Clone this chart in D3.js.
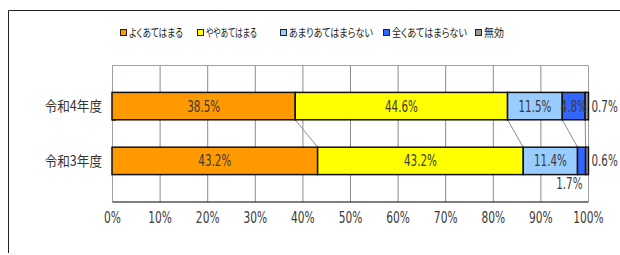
<!DOCTYPE html>
<html>
<head>
<meta charset="utf-8">
<script src="https://cdn.jsdelivr.net/npm/d3@7"></script>
<style>
  body { margin: 0; background: #fff; }
  .num { font-family: "Liberation Sans Narrow", "DejaVu Sans Condensed", sans-serif; }
  .jp { font-family: "Noto Sans CJK JP", sans-serif; font-feature-settings: "palt"; }
</style>
</head>
<body>
<svg id="chart" width="620" height="255"></svg>
<script>
const categories = ['令和4年度', '令和3年度'];
const seriesNames = ['よくあてはまる', 'ややあてはまる', 'あまりあてはまらない', '全くあてはまらない', '無効'];
const seriesColors = ['#ff9900', '#ffff00', '#99ccff', '#3366ff', '#999999'];
const valuesR4 = [38.5, 44.6, 11.5, 4.8, 0.7];
const valuesR3 = [43.2, 43.2, 11.4, 1.7, 0.6];
const tickValues = [0, 10, 20, 30, 40, 50, 60, 70, 80, 90, 100];

const rows = [valuesR4, valuesR3];

const svg = d3.select('#chart');

// outer frame (only left and top edges are visible)
svg.append('path')
  .attr('d', 'M8.5,253V10.5H620')
  .attr('fill', 'none')
  .attr('stroke', '#222');

const x = d3.scaleLinear().domain([0, 100]).range([112, 588]);
const y = d3.scaleBand().domain(categories).range([65, 202]).padding(0.5);

// squash text horizontally like the original narrow font
const squash = (sel, px, py, sx) =>
  sel.attr('transform', `translate(${px},${py}) scale(${sx},1)`);

// plot area border + grid
const grid = svg.append('g');
grid.selectAll('line')
  .data(tickValues.slice(1, -1))
  .join('line')
  .attr('x1', d => x(d) + 0.5).attr('x2', d => x(d) + 0.5)
  .attr('y1', 65).attr('y2', 202)
  .attr('stroke', '#8c8c8c');
grid.append('path')
  .attr('d', `M${x(0) + 0.5},202V65.5H${x(100) + 0.5}V202`)
  .attr('fill', 'none')
  .attr('stroke', '#a0a0a0');

// bottom axis
const xAxis = svg.append('g')
  .attr('transform', 'translate(0,201.5)')
  .call(d3.axisBottom(x).tickValues(tickValues).tickSize(0).tickFormat(d => d + '%'));
xAxis.select('.domain').attr('stroke', '#000').attr('stroke-width', 1.2);
xAxis.selectAll('text')
  .attr('class', 'num')
  .attr('font-size', 16)
  .attr('fill', '#3a3a3a')
  .attr('y', null).attr('dy', null)
  .call(squash, 0, 21, 0.74);

// category axis tick at band boundary
const step = y.step();
svg.append('line')
  .attr('x1', x(0)).attr('x2', x(0) + 4)
  .attr('y1', 65 + step + 0.5).attr('y2', 65 + step + 0.5)
  .attr('stroke', '#444');

// stacked segments
const stacked = rows.map((vals, r) => {
  let acc = 0;
  return vals.map((v, i) => {
    const seg = { cat: categories[r], row: r, i, v, x0: acc, x1: acc + v };
    acc += v;
    return seg;
  });
});

// connector lines between bars
const links = d3.range(4).map(i => ({ a: stacked[0][i].x1, b: stacked[1][i].x1 }));
svg.append('g').selectAll('line')
  .data(links)
  .join('line')
  .attr('x1', d => x(d.a)).attr('y1', y(categories[0]) + y.bandwidth())
  .attr('x2', d => x(d.b)).attr('y2', y(categories[1]))
  .attr('stroke', '#8c8c8c');

const segs = stacked.flat();
svg.append('g').selectAll('rect')
  .data(segs)
  .join('rect')
  .attr('x', d => x(d.x0))
  .attr('y', d => y(d.cat))
  .attr('width', d => x(d.x1) - x(d.x0))
  .attr('height', y.bandwidth())
  .attr('fill', d => seriesColors[d.i])
  .attr('stroke', '#111')
  .attr('stroke-width', 1.5);

// value labels
const labelPos = d => {
  const cy = y(d.cat) + y.bandwidth() / 2 + 5.5;
  if (d.i === 4) return { px: x(d.x1) + 3, py: cy, anchor: 'start' };
  if (d.row === 1 && d.i === 3) return { px: x(d.x0) + 5, py: y(d.cat) + y.bandwidth() + 14, anchor: 'end' };
  return { px: (x(d.x0) + x(d.x1)) / 2, py: cy, anchor: 'middle' };
};
svg.append('g').selectAll('text')
  .data(segs)
  .join('text')
  .attr('class', 'num')
  .attr('font-size', 16)
  .attr('fill', '#3a3a3a')
  .each(function (d) {
    const p = labelPos(d);
    d3.select(this).attr('text-anchor', p.anchor).call(squash, p.px, p.py, 0.72);
  })
  .text(d => d.v.toFixed(1) + '%');

// category labels
svg.append('g').selectAll('text')
  .data(categories)
  .join('text')
  .attr('class', 'jp')
  .attr('font-size', 14)
  .attr('fill', '#333')
  .attr('text-anchor', 'end')
  .each(function (d) {
    d3.select(this).call(squash, 102, y(d) + y.bandwidth() / 2 + 5, 0.9);
  })
  .text(d => d);

// legend
const legendX = [120, 197, 280, 383, 475];
const legendW = [54, 51, 84, 75, 20];
const legend = svg.append('g').selectAll('g')
  .data(seriesNames)
  .join('g')
  .attr('transform', (d, i) => `translate(${legendX[i]},33)`);
legend.append('rect')
  .attr('x', 0.5).attr('y', -3.5)
  .attr('width', 6).attr('height', 6)
  .attr('fill', (d, i) => seriesColors[i])
  .attr('stroke', '#222');
legend.append('text')
  .attr('class', 'jp')
  .attr('font-size', 11.5)
  .attr('fill', '#222')
  .text(d => d)
  .each(function (d, i) {
    // fit each label to the width it takes in the original
    const w = this.getComputedTextLength();
    d3.select(this).call(squash, 9, 4, Math.min(1, legendW[i] / w));
  });
</script>
</body>
</html>
